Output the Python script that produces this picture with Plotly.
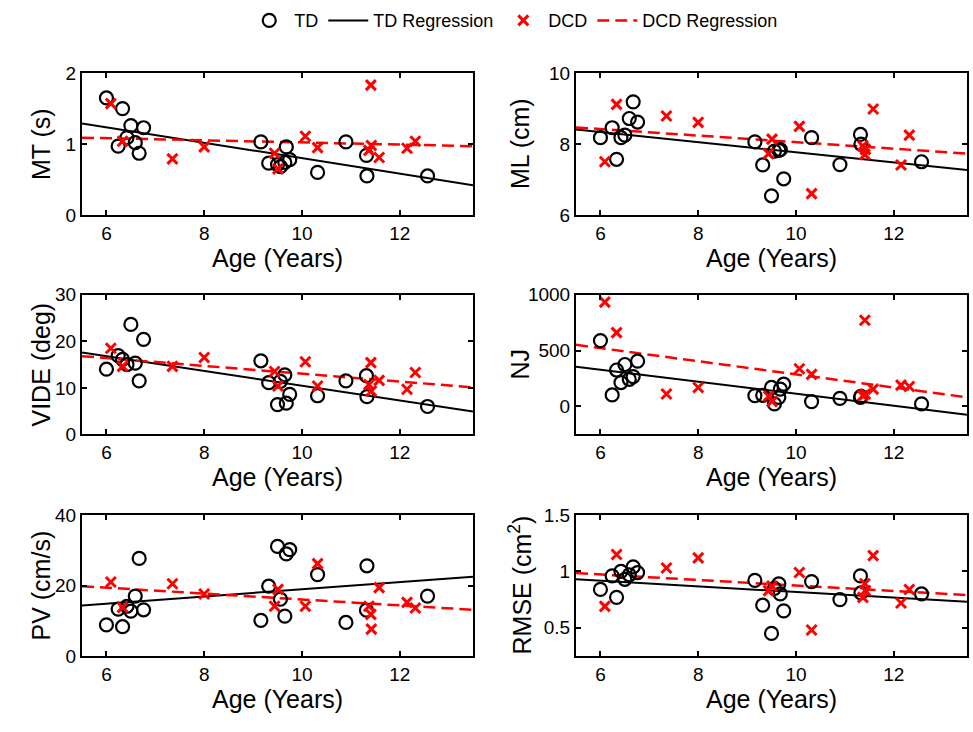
import plotly.graph_objects as go

# ---------------- data ----------------
td_age = [6.00, 6.24, 6.33, 6.42, 6.50, 6.59, 6.67, 6.76, 9.16, 9.32,
          9.50, 9.56, 9.65, 9.68, 9.75, 10.32, 10.90, 11.32, 11.33, 12.57]
dcd_age = [6.09, 6.33, 7.35, 8.00, 9.44, 9.51, 10.07, 10.32, 11.37, 11.41,
           11.42, 11.58, 12.15, 12.32]

mt_td = [1.65, 0.97, 1.50, 1.09, 1.26, 1.02, 0.87, 1.23, 1.03, 0.73,
         0.71, 0.68, 0.74, 0.96, 0.78, 0.60, 1.03, 0.84, 0.55, 0.55]
mt_dcd = [1.57, 1.04, 0.79, 0.96, 0.87, 0.65, 1.11, 0.95, 0.91, 1.83,
          0.98, 0.81, 0.94, 1.04]

ml_td = [8.18, 8.46, 7.57, 8.18, 8.25, 8.72, 9.19, 8.62, 8.06, 7.41,
         6.54, 7.80, 7.82, 7.84, 7.02, 8.18, 7.42, 8.27, 8.00, 7.50]
ml_dcd = [7.50, 9.12, 8.79, 8.61, 7.73, 8.14, 8.50, 6.60, 7.95, 7.70,
          7.85, 8.99, 7.41, 8.25]

vide_td = [14.0, 16.9, 16.1, 15.0, 23.6, 15.3, 11.5, 20.4, 15.8, 11.1,
           6.4, 11.4, 12.8, 6.7, 8.6, 8.3, 11.5, 12.6, 8.1, 6.0]
vide_dcd = [18.5, 14.6, 14.6, 16.5, 13.5, 10.4, 15.6, 10.4, 10.7, 15.4,
            9.3, 11.6, 9.7, 13.3]

nj_td = [589, 103, 326, 214, 375, 243, 267, 405, 97, 100,
         170, 23, 82, 155, 199, 44, 73, 82, 90, 23]
nj_dcd = [933, 660, 111, 170, 91, 44, 337, 287, 97, 771,
          111, 155, 191, 179]

pv_td = [8.8, 13.3, 8.3, 14.1, 12.7, 17.0, 27.7, 13.1, 10.1, 19.8,
         31.1, 16.1, 11.3, 29.0, 30.2, 23.1, 9.5, 13.0, 25.6, 17.0]
pv_dcd = [21.0, 13.8, 20.5, 17.6, 14.1, 18.9, 14.1, 26.2, 14.1, 11.8,
          7.6, 19.4, 15.2, 13.6]

rmse_td = [0.84, 0.96, 0.77, 1.00, 0.93, 0.97, 1.04, 0.99, 0.92, 0.70,
           0.45, 0.85, 0.89, 0.80, 0.65, 0.91, 0.75, 0.96, 0.81, 0.80]
rmse_dcd = [0.69, 1.15, 1.03, 1.12, 0.83, 0.87, 0.99, 0.48, 0.77, 0.89,
            0.83, 1.14, 0.72, 0.84]

# regression lines: value at the two ends of the age axis
fit_age = [5.5, 13.5]
mt_td_fit, mt_dcd_fit = [1.29, 0.42], [1.09, 0.97]
ml_td_fit, ml_dcd_fit = [8.41, 7.27], [8.47, 7.73]
vide_td_fit, vide_dcd_fit = [17.6, 4.9], [16.8, 10.1]
nj_td_fit, nj_dcd_fit = [355, -73], [551, 82]
pv_td_fit, pv_dcd_fit = [14.3, 22.5], [19.8, 13.1]
rmse_td_fit, rmse_dcd_fit = [0.93, 0.73], [0.985, 0.79]

y_titles = ["MT (s)", "ML (cm)", "VIDE (deg)", "NJ", "PV (cm/s)", "RMSE (cm<sup>2</sup>)"]
y_ranges = [[0, 2], [6, 10], [0, 30], [-250, 1000], [0, 40], [0.25, 1.5]]
y_dticks = [1, 2, 10, 500, 20, 0.5]
x_title = "Age (Years)"

panels = [
    (mt_td, mt_dcd, mt_td_fit, mt_dcd_fit),
    (ml_td, ml_dcd, ml_td_fit, ml_dcd_fit),
    (vide_td, vide_dcd, vide_td_fit, vide_dcd_fit),
    (nj_td, nj_dcd, nj_td_fit, nj_dcd_fit),
    (pv_td, pv_dcd, pv_td_fit, pv_dcd_fit),
    (rmse_td, rmse_dcd, rmse_td_fit, rmse_dcd_fit),
]

# ---------------- layout geometry ----------------
W, H = 973, 732
col_px = [(82, 473), (576, 967)]
row_px = [(65, 211), (293, 437), (520, 665)]
ytitle_px = [41, 520]

FONT = "Arial, 'Liberation Sans', sans-serif"
TITLE_SIZE = 25

fig = go.Figure()
annotations = []
layout = dict(
    width=W, height=H,
    margin=dict(l=0, r=0, t=0, b=0),
    paper_bgcolor="white", plot_bgcolor="white",
    font=dict(family=FONT, color="black", size=18),
    showlegend=True,
    legend=dict(orientation="h", x=0.528, xanchor="center",
                y=1 - 11 / H, yanchor="middle",
                font=dict(size=18), bgcolor="rgba(0,0,0,0)",
                itemwidth=40, traceorder="normal"),
)

for i, (td_v, dcd_v, td_fit, dcd_fit) in enumerate(panels):
    r, c = divmod(i, 2)
    n = i + 1
    xa = "x" if n == 1 else f"x{n}"
    ya = "y" if n == 1 else f"y{n}"
    first = (i == 0)

    fig.add_trace(go.Scatter(
        x=fit_age, y=td_fit, mode="lines", xaxis=xa, yaxis=ya,
        line=dict(color="black", width=2), name="TD Regression",
        showlegend=first, legendrank=2))
    fig.add_trace(go.Scatter(
        x=fit_age, y=dcd_fit, mode="lines", xaxis=xa, yaxis=ya,
        line=dict(color="red", width=2.5, dash="12px,6px"), name="DCD Regression",
        showlegend=first, legendrank=4))
    fig.add_trace(go.Scatter(
        x=td_age, y=td_v, mode="markers", xaxis=xa, yaxis=ya,
        marker=dict(symbol="circle-open", size=13, color="black",
                    line=dict(width=2.2, color="black")),
        name="TD", showlegend=first, legendrank=1, cliponaxis=False))
    fig.add_trace(go.Scatter(
        x=dcd_age, y=dcd_v, mode="markers", xaxis=xa, yaxis=ya,
        marker=dict(symbol="x-thin", size=10, color="red",
                    line=dict(width=3, color="red")),
        name="DCD", showlegend=first, legendrank=3, cliponaxis=False))

    x0, x1 = col_px[c]
    y0, y1 = row_px[r]
    common = dict(showline=True, linecolor="black", linewidth=2, mirror="ticks",
                  ticks="inside", ticklen=5, tickwidth=1.5, tickcolor="black",
                  showgrid=False, zeroline=False,
                  tickfont=dict(size=19, family=FONT, color="black"))
    layout["xaxis" if n == 1 else f"xaxis{n}"] = dict(
        domain=[x0 / W, x1 / W], anchor=ya, range=[5.5, 13.5],
        tick0=6, dtick=2,
        title=dict(text=x_title, font=dict(size=TITLE_SIZE, family=FONT), standoff=6),
        **common)
    layout["yaxis" if n == 1 else f"yaxis{n}"] = dict(
        domain=[1 - y1 / H, 1 - y0 / H], anchor=xa, range=y_ranges[i],
        tick0=0, dtick=y_dticks[i],
        **common)
    annotations.append(dict(
        text=y_titles[i], textangle=-90, showarrow=False,
        xref="paper", yref="paper",
        x=ytitle_px[c] / W, y=1 - (y0 + y1) / 2 / H,
        xanchor="center", yanchor="middle",
        font=dict(size=TITLE_SIZE, family=FONT, color="black")))

layout["annotations"] = annotations
fig.update_layout(**layout)
fig.write_html("out.html")
